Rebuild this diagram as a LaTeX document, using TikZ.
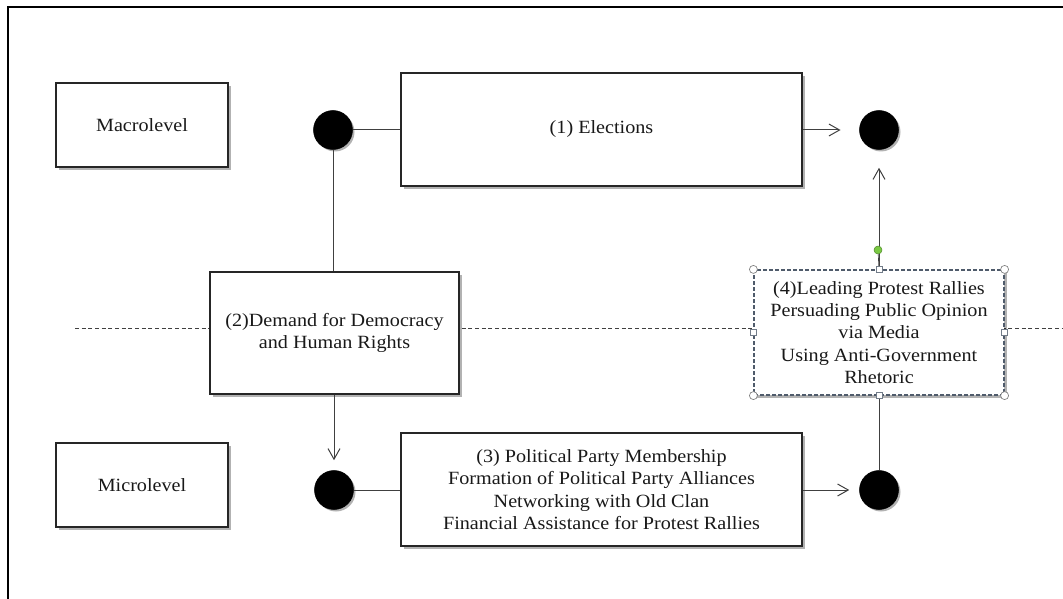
\documentclass[tikz,border=0pt]{standalone}
\usepackage{fontspec}
\setmainfont{Liberation Serif}[FakeStretch=1.08]
\usetikzlibrary{arrows.meta,shadows}
\definecolor{ln}{HTML}{404040}
\definecolor{selc}{HTML}{4F5B6B}
\definecolor{grn}{HTML}{7AC943}
\begin{document}
\begin{tikzpicture}[x=0.75pt,y=-0.75pt,
  box/.style={draw=black!85, line width=0.9pt, fill=white, align=center, inner sep=0pt,
    font=\fontsize{14}{16.8}\selectfont, text=black!90,
    drop shadow={shadow xshift=2pt,shadow yshift=-2pt,opacity=0.3,fill=black}},
  dot/.style={circle, fill=black, draw=black, minimum size=29.25pt, inner sep=0pt,
    drop shadow={shadow xshift=1.5pt,shadow yshift=-1.5pt,opacity=0.3,fill=black}},
  conn/.style={draw=ln, line width=0.75pt},
  arr/.style={conn, -{Straight Barb[length=8pt,width=9pt]}},
  cornerh/.style={circle, draw=gray, fill=white, line width=0.5pt, minimum size=6pt, inner sep=0pt},
  edgeh/.style={rectangle, draw=selc!80, fill=white, line width=0.5pt, minimum size=4.5pt, inner sep=0pt},
  rot/.style={circle, draw=grn!70!black, fill=grn, line width=0.4pt, minimum size=6pt, inner sep=0pt}]
\useasboundingbox (0,0) rectangle (1063,599);
\draw[line width=1pt] (8,599) -- (8,7) -- (1063,7);
\draw[draw=ln, line width=0.6pt, dash pattern=on 3pt off 2pt] (75,328) -- (1063,328);

\node[box, minimum width=129pt, minimum height=63pt] (macro) at (142,125) {Macrolevel};
\node[box, minimum width=129pt, minimum height=63pt] (micro) at (142,485) {Microlevel};

\node[dot] (c1) at (333,130) {};
\node[dot] (c2) at (879,130) {};
\node[dot] (c3) at (334,490) {};
\node[dot] (c4) at (879,490) {};

\node[box, minimum width=300.75pt, minimum height=84.75pt] (elect) at (601.5,129.5) {(1) Elections};
\node[box, minimum width=186.75pt, minimum height=91.5pt] (demand) at (334.5,333) {(2)Demand for Democracy\\and Human Rights};
\node[box, minimum width=300.75pt, minimum height=84.75pt] (party) at (601.5,489.5) {(3) Political Party Membership\\Formation of Political Party Alliances\\Networking with Old Clan\\Financial Assistance for Protest Rallies};
\node[box, draw=selc, dash pattern=on 3pt off 1.5pt, minimum width=187.5pt, minimum height=93.75pt] (rally) at (879,332.5) {(4)Leading Protest Rallies\\Persuading Public Opinion\\via Media\\Using Anti-Government\\Rhetoric};

\draw[conn] (c1) -- (c1 -| elect.west);
\draw[arr, shorten >=14pt] (c2 -| elect.east) -- (c2);
\draw[conn] (c1) -- (demand.north -| c1);
\draw[arr, shorten >=7.5pt] (c3 |- demand.south) -- (c3);
\draw[conn] (c3) -- (c3 -| party.west);
\draw[arr, shorten >=7.5pt] (c4 -| party.east) -- (c4);
\draw[conn] (c4) -- (rally.south);
\draw[arr, shorten >=13.5pt] (rally.north) -- (c2);

\node[rot] (rh) at (878,250) {};
\draw[draw=ln, line width=0.5pt] (rh) -- (rally.north);
\foreach \a in {north west, north east, south west, south east}
  \node[cornerh] at (rally.\a) {};
\foreach \a in {north, south, east, west}
  \node[edgeh] at (rally.\a) {};
\end{tikzpicture}
\end{document}
